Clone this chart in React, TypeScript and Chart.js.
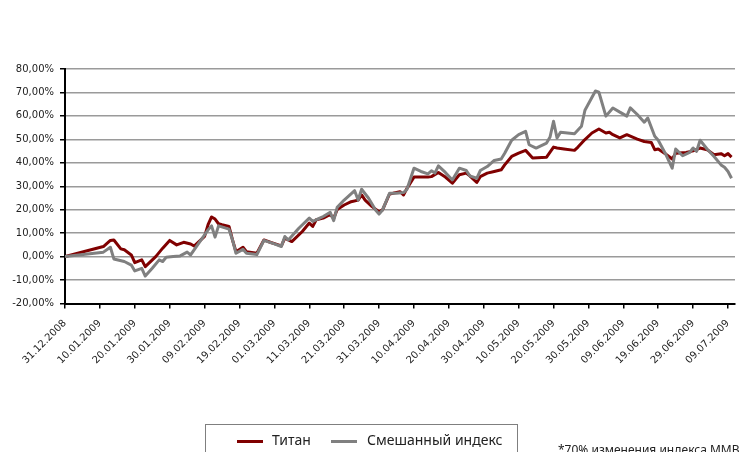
import React, { useEffect, useRef } from 'react';
import { Chart, registerables } from 'chart.js';
Chart.register(...registerables);

// Tick labels every 10 calendar days from 31.12.2008
const xTickLabels = [
  '31.12.2008', '10.01.2009', '20.01.2009', '30.01.2009', '09.02.2009',
  '19.02.2009', '01.03.2009', '11.03.2009', '21.03.2009', '31.03.2009',
  '10.04.2009', '20.04.2009', '30.04.2009', '10.05.2009', '20.05.2009',
  '30.05.2009', '09.06.2009', '19.06.2009', '29.06.2009', '09.07.2009',
];

// Days elapsed since 31.12.2008 and cumulative change, %
const titanDays = [0, 11, 13, 14, 16, 17, 19, 20, 22, 23, 26, 28, 30, 32, 34, 36, 37, 40, 41, 42, 43, 44, 45, 47, 48, 49, 51, 52, 54, 55, 57, 59, 62, 63, 65, 68, 70, 71, 72, 74, 76, 77, 78, 80, 82, 84, 85, 86, 88, 90, 91, 93, 94, 96, 97, 98, 100, 102, 104, 105, 107, 109, 111, 113, 115, 116, 118, 119, 121, 123, 125, 126, 128, 130, 132, 134, 138, 140, 141, 143, 146, 147, 149, 151, 153, 155, 156, 157, 159, 161, 164, 166, 168, 169, 170, 172, 174, 175, 178, 180, 182, 184, 186, 188, 189, 190, 191];
const titanValues = [0, 4.3, 6.9, 7.1, 3.3, 2.9, 0.7, -2.6, -1.4, -4.3, 0, 3.6, 6.9, 5, 6.1, 5.4, 4.5, 8.6, 13.6, 16.9, 16, 14, 13.6, 12.9, 7.1, 2.1, 4, 2.1, 1.7, 1.4, 7.1, 6, 4.6, 7.9, 6.4, 10.7, 14.3, 12.9, 15.7, 16.4, 18, 16.3, 20.1, 22, 23.4, 24.1, 26.3, 24.1, 21.3, 19.1, 19.9, 26.7, 27, 27.7, 26.3, 29.1, 33.9, 33.9, 33.9, 34.1, 35.9, 33.9, 31.3, 34.9, 35.6, 34.4, 31.6, 34.1, 35.6, 36.3, 37, 39.1, 42.7, 44.1, 45.3, 42, 42.4, 46.7, 46.3, 45.9, 45.3, 46.7, 49.9, 52.7, 54.4, 52.7, 53, 52, 50.6, 52, 50.1, 49.1, 48.7, 45.6, 45.9, 43.9, 41.6, 44.1, 44.4, 45.1, 46.3, 45.6, 43.4, 43.9, 43, 43.9, 42.4];

const mixDays = [0, 11, 13, 14, 17, 19, 20, 22, 23, 25, 27, 28, 29, 31, 33, 35, 36, 37, 39, 41, 42, 43, 44, 47, 48, 49, 51, 52, 55, 57, 60, 62, 63, 64, 67, 70, 71, 73, 74, 76, 77, 78, 80, 83, 84, 85, 87, 89, 90, 91, 93, 95, 97, 98, 100, 102, 104, 105, 106, 107, 109, 111, 113, 115, 116, 118, 119, 121, 123, 125, 126, 128, 130, 132, 133, 135, 138, 139, 140, 141, 142, 146, 148, 149, 152, 153, 155, 157, 159, 161, 162, 164, 166, 167, 169, 170, 172, 174, 175, 177, 179, 180, 181, 182, 184, 186, 188, 189, 190, 191];
const mixValues = [0, 1.9, 4, -1, -2.1, -3.6, -6.1, -5, -8.3, -5, -1.4, -2.1, -0.3, 0, 0.3, 1.9, 0.7, 2.9, 7.1, 11.4, 13.1, 8.3, 13.1, 11.7, 7.1, 1.4, 3.1, 1.4, 0.9, 6.9, 5.4, 4.3, 8.6, 7.1, 12.1, 16.4, 15, 16.4, 17.1, 18.9, 15.3, 21, 24.1, 28.1, 24.1, 28.7, 24.9, 19.9, 18.1, 19.9, 27, 27, 27.3, 28.7, 37.7, 36.3, 35.3, 36.6, 35.6, 38.7, 35.9, 32.7, 37.7, 36.7, 34.4, 33.4, 36.7, 38.4, 41, 41.6, 44.1, 49.6, 52, 53.4, 47.7, 46.3, 48.4, 51, 57.7, 50.6, 53, 52.4, 55.6, 62.4, 70.6, 70.1, 59.9, 63.4, 61.6, 59.9, 63.4, 60.6, 57.3, 59.1, 51.3, 49.6, 44.1, 37.7, 45.9, 43, 44.4, 46.3, 44.9, 49.6, 45.9, 42.7, 39.1, 38.1, 36.3, 33.4];

const seriesNames = ['Титан', 'Смешанный индекс'];
const seriesColors = ['#800000', '#808080'];
const footnote = '*70% изменения индекса ММВБ';

export default function App() {
  const ref = useRef<HTMLCanvasElement>(null);
  useEffect(() => {
    const axisFont = { family: '"DejaVu Sans", Verdana, sans-serif', size: 10 };
    const chart = new Chart(ref.current as HTMLCanvasElement, {
      type: 'line',
      data: {
        datasets: [
          {
            label: seriesNames[0],
            data: titanDays.map((d, i) => ({ x: d, y: titanValues[i] })),
            borderColor: seriesColors[0],
            backgroundColor: seriesColors[0],
            borderWidth: 3,
            pointRadius: 0,
            tension: 0,
            borderJoinStyle: 'round',
            order: 2,
          },
          {
            label: seriesNames[1],
            data: mixDays.map((d, i) => ({ x: d, y: mixValues[i] })),
            borderColor: seriesColors[1],
            backgroundColor: seriesColors[1],
            borderWidth: 3,
            pointRadius: 0,
            tension: 0,
            borderJoinStyle: 'round',
            order: 1,
          },
        ],
      },
      options: {
        animation: false,
        responsive: false,
        devicePixelRatio: 1,
        layout: { padding: { left: 8, top: 69, right: 5, bottom: 0 } },
        plugins: { legend: { display: false }, tooltip: { enabled: false } },
        scales: {
          x: {
            type: 'linear',
            min: 0,
            max: 192,
            afterBuildTicks: (s: any) => {
              s.ticks = xTickLabels.map((_, i) => ({ value: i * 10 }));
            },
            afterFit: (s: any) => {
              s.height = 148.5;
              s.paddingLeft = 0;
              s.paddingRight = 0;
            },
            ticks: {
              autoSkip: false,
              maxRotation: 45,
              minRotation: 45,
              padding: 9,
              font: axisFont,
              color: '#222',
              callback: (v: any) => xTickLabels[Math.round(Number(v) / 10)] ?? '',
            },
            grid: { drawOnChartArea: false, tickLength: 5, tickColor: '#000', lineWidth: 1.5 },
            border: { color: '#000', width: 2 },
          },
          y: {
            min: -20,
            max: 80,
            afterFit: (s: any) => {
              s.width = 57;
            },
            ticks: {
              stepSize: 10,
              padding: 6,
              font: axisFont,
              color: '#222',
              callback: (v: any) => Number(v).toFixed(2).replace('.', ',') + '%',
            },
            grid: { color: '#9a9a9a', lineWidth: 1.5, tickLength: 5, tickColor: '#000' },
            border: { color: '#000', width: 2 },
          },
        },
      },
    });
    return () => chart.destroy();
  }, []);

  const legendFont = '"Noto Sans", "Open Sans", sans-serif';
  return (
    <div style={{ position: 'fixed', left: 0, top: 0, width: 740, height: 452, overflow: 'hidden', background: '#fff' }}>
      <canvas ref={ref} width={740} height={452} style={{ display: 'block', position: 'absolute', left: 0, top: 0 }} />
      <div
        style={{
          position: 'absolute', left: 205, top: 424, width: 313, height: 40,
          border: '1px solid #7f7f7f', boxSizing: 'border-box', fontFamily: legendFont,
          fontSize: 14, color: '#222',
        }}
      >
        <div style={{ position: 'absolute', left: 31, top: 15, width: 26, height: 3, background: seriesColors[0] }} />
        <div style={{ position: 'absolute', left: 66, top: 6, whiteSpace: 'nowrap', lineHeight: '18px' }}>{seriesNames[0]}</div>
        <div style={{ position: 'absolute', left: 125, top: 15, width: 26, height: 3, background: seriesColors[1] }} />
        <div style={{ position: 'absolute', left: 161, top: 6, whiteSpace: 'nowrap', lineHeight: '18px' }}>{seriesNames[1]}</div>
      </div>
      <div
        style={{
          position: 'absolute', left: 558, top: 442, whiteSpace: 'nowrap', fontFamily: legendFont,
          fontSize: 12, color: '#222', lineHeight: '16px',
        }}
      >
        {footnote}
      </div>
    </div>
  );
}
